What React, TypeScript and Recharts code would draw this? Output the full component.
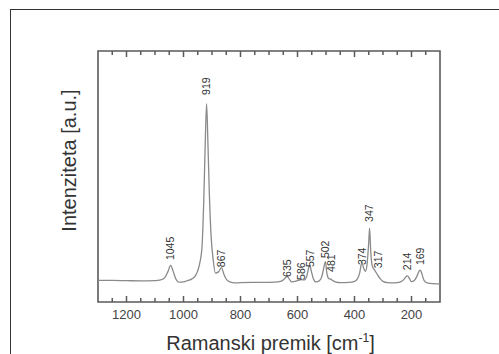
import React from "react";
import {
  ComposedChart,
  Line,
  Scatter,
  XAxis,
  YAxis,
  ReferenceArea,
} from "recharts";

// Raman shift [cm-1] and intensity [a.u.]
const shift = [
  1300, 1250, 1200, 1150, 1100, 1080, 1065, 1055, 1045, 1037, 1028, 1015, 1000, 985, 970, 958, 950,
  942, 935, 929, 924, 919, 914, 909, 903, 896, 888, 877, 867, 858, 848, 835, 820, 800, 760, 720, 680,
  660, 648, 640, 635, 628, 620, 605, 595, 586, 575, 567, 561, 557, 552, 545, 535, 525, 515, 508, 502,
  497, 490, 483, 476, 465, 450, 420, 400, 390, 382, 378, 374, 368, 362, 356, 350, 347, 343, 338, 330,
  320, 310, 300, 285, 260, 240, 228, 220, 214, 207, 200, 190, 180, 174, 169, 163, 156, 145, 125, 100,
];
const intensity = [
  8.6, 8.6, 8.5, 8.4, 8.5, 8.8, 9.8, 12.0, 14.6, 12.5, 9.5, 7.9, 8.0, 8.6, 9.2, 10.5, 12.5,
  16, 22, 40, 62, 79, 62, 42, 26, 17, 11.5, 12, 13.7, 11, 8.8, 7.9, 7.6, 7.7, 7.8, 7.8, 7.9,
  8.2, 9.0, 9.9, 10.1, 9.0, 8.0, 8.3, 8.7, 8.9, 8.8, 10.5, 13.5, 14.7, 12.5, 9.5, 8.0, 8.3, 10, 13.5, 16.1,
  11.5, 9.3, 9.1, 8.5, 7.9, 7.7, 7.8, 8.2, 9.2, 11.5, 14, 15.9, 13.5, 12.2, 15, 24, 29.4, 20, 14.5, 12.8,
  11, 9.3, 8.2, 7.7, 7.6, 7.9, 8.8, 10, 10.4, 9.3, 8.1, 8.6, 10.5, 12.2, 12.7, 11, 8.6, 7.6, 7.3, 7.2,
];

// peak annotations: position and where the label starts
const peakShift = [1045, 919, 867, 635, 586, 557, 502, 481, 374, 347, 317, 214, 169];
const peakLabelY = [16.7, 82.5, 13.9, 10.0, 8.8, 13.9, 17.5, 12.0, 14.7, 31.9, 13.5, 12.7, 14.7];

// every 50 cm-1 a tick, labels on the multiples of 200
const axisTicks = [
  1250, 1200, 1150, 1100, 1050, 1000, 950, 900, 850, 800, 750, 700, 650, 600, 550, 500, 450, 400,
  350, 300, 250, 200, 150,
];

const spectrum = shift.map((x, i) => ({ x, y: intensity[i] }));
const peaks = peakShift.map((x, i) => ({ x, y: peakLabelY[i], label: String(x) }));

const FONT = "Liberation Sans, Arial, sans-serif";
const FRAME = "#5a5a5a";
const DOMAIN: [number, number] = [100, 1300];
const YDOMAIN: [number, number] = [0, 100];

const isMajor = (v: number) => v % 200 === 0;

function PeakLabel(props: any) {
  const { cx, cy, payload } = props;
  if (cx == null || cy == null) return null;
  return (
    <text
      x={cx}
      y={cy}
      dy="0.36em"
      transform={`rotate(-90 ${cx} ${cy})`}
      textAnchor="start"
      fontSize={10.5}
      fontFamily={FONT}
      fill="#333"
    >
      {payload.label}
    </text>
  );
}

// inward tick marks (tickSize and tickMargin are 0, so x/y sit on the frame)
function BottomTick(props: any) {
  const { x, y, payload } = props;
  const major = isMajor(payload.value);
  return (
    <g>
      <path d={`M${x},${y}V${y - (major ? 6 : 4)}`} stroke={FRAME} strokeWidth={1.5} fill="none" />
      {major ? (
        <text
          x={x}
          y={y + 8}
          dy="0.71em"
          textAnchor="middle"
          fontSize={13}
          fontFamily={FONT}
          fill="#444"
        >
          {payload.value}
        </text>
      ) : null}
    </g>
  );
}

function TopTick(props: any) {
  const { x, y, payload } = props;
  const major = isMajor(payload.value);
  return (
    <g>
      <path d={`M${x},${y}V${y + (major ? 6 : 4)}`} stroke={FRAME} strokeWidth={1.5} fill="none" />
    </g>
  );
}

export default function App() {
  return (
    <div
      style={{
        position: "fixed",
        left: 0,
        top: 0,
        width: 499,
        height: 354,
        overflow: "hidden",
        background: "#fff",
      }}
    >
      <div
        style={{
          position: "absolute",
          left: 10,
          top: 9,
          width: 600,
          height: 400,
          border: "1.5px solid #333",
        }}
      />
      <div style={{ position: "absolute", left: 0, top: 0 }}>
        <ComposedChart
          width={499}
          height={354}
          margin={{ top: 50, left: 97, right: 59, bottom: 51 }}
        >
          {/* plot frame */}
          <ReferenceArea
            xAxisId="b"
            yAxisId="l"
            x1={DOMAIN[0]}
            x2={DOMAIN[1]}
            y1={YDOMAIN[0]}
            y2={YDOMAIN[1]}
            fill="none"
            fillOpacity={0}
            stroke={FRAME}
            strokeWidth={1.6}
            ifOverflow="visible"
          />
          <XAxis
            xAxisId="b"
            type="number"
            dataKey="x"
            domain={DOMAIN}
            reversed
            allowDataOverflow
            ticks={axisTicks}
            interval={0}
            tickSize={0}
            tickMargin={0}
            tickLine={false}
            axisLine={false}
            height={1}
            tick={BottomTick}
            label={{
              position: "bottom",
              content: (p: any) => {
                const vb = p.viewBox;
                return (
                  <text
                    x={vb.x + vb.width / 2 + 1.5}
                    y={350}
                    textAnchor="middle"
                    fontSize={20}
                    fontFamily={FONT}
                    fill="#333"
                  >
                    Ramanski premik [cm
                    <tspan fontSize={12} dy={-8}>
                      -1
                    </tspan>
                    <tspan dy={8}>]</tspan>
                  </text>
                );
              },
            }}
          />
          <XAxis
            xAxisId="t"
            orientation="top"
            type="number"
            dataKey="x"
            domain={DOMAIN}
            reversed
            allowDataOverflow
            ticks={axisTicks}
            interval={0}
            tickSize={0}
            tickMargin={0}
            tickLine={false}
            axisLine={false}
            height={1}
            tick={TopTick}
          />
          <YAxis
            yAxisId="l"
            type="number"
            domain={YDOMAIN}
            allowDataOverflow
            width={1}
            tick={false}
            tickLine={false}
            axisLine={false}
            label={{
              position: "left",
              content: (p: any) => {
                const vb = p.viewBox;
                const x = vb.x + vb.width - 22;
                const y = 160.5;
                return (
                  <text
                    x={x}
                    y={y}
                    transform={`rotate(-90 ${x} ${y})`}
                    textAnchor="middle"
                    fontSize={20}
                    fontFamily={FONT}
                    fill="#333"
                  >
                    Intenziteta [a.u.]
                  </text>
                );
              },
            }}
          />
          <Line
            xAxisId="b"
            yAxisId="l"
            data={spectrum}
            dataKey="y"
            type="monotone"
            stroke="#8a8a8a"
            strokeWidth={1.3}
            dot={false}
            activeDot={false}
            isAnimationActive={false}
          />
          <Scatter
            xAxisId="b"
            yAxisId="l"
            data={peaks}
            dataKey="y"
            shape={PeakLabel}
            isAnimationActive={false}
          />
        </ComposedChart>
      </div>
    </div>
  );
}
